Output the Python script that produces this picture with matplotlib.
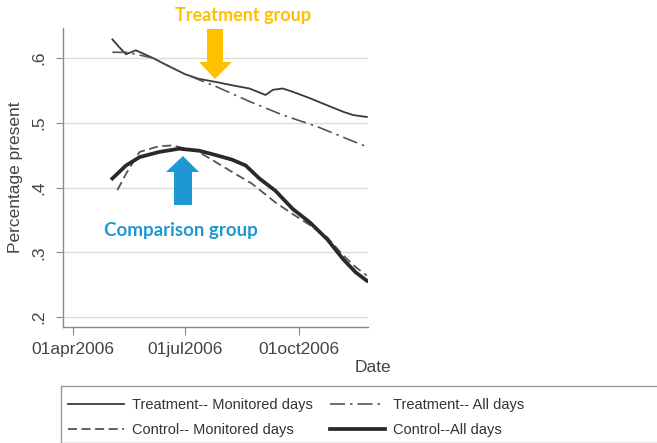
import numpy as np
import matplotlib
matplotlib.use('Agg')
import matplotlib.pyplot as plt
import matplotlib.dates as mdates
from matplotlib.patches import Polygon, Rectangle
from datetime import datetime

# treatment, monitored days
t_mon_dates = ['2006-05-03', '2006-05-08', '2006-05-14', '2006-05-22', '2006-06-05',
               '2006-06-16', '2006-07-01', '2006-07-12', '2006-07-26', '2006-08-08',
               '2006-08-22', '2006-09-04', '2006-09-10', '2006-09-18', '2006-09-26',
               '2006-10-10', '2006-10-24', '2006-11-06', '2006-11-14', '2006-11-25']
t_mon_vals = [0.629, 0.618, 0.606, 0.612, 0.600, 0.589, 0.575, 0.568, 0.563, 0.558,
              0.553, 0.543, 0.551, 0.553, 0.548, 0.538, 0.527, 0.517, 0.512, 0.509]

# treatment, all days
t_all_dates = ['2006-05-03', '2006-05-14', '2006-05-22', '2006-06-05', '2006-07-01',
               '2006-07-26', '2006-08-22', '2006-09-18', '2006-10-16', '2006-11-12',
               '2006-11-25']
t_all_vals = [0.609, 0.609, 0.606, 0.600, 0.575, 0.556, 0.533, 0.512, 0.494, 0.473, 0.463]

# control, monitored days
c_mon_dates = ['2006-05-07', '2006-05-14', '2006-05-25', '2006-06-10', '2006-06-21',
               '2006-07-12', '2006-07-26', '2006-08-08', '2006-08-24', '2006-09-12',
               '2006-09-26', '2006-10-10', '2006-10-24', '2006-11-06', '2006-11-16',
               '2006-11-25']
c_mon_vals = [0.396, 0.421, 0.455, 0.464, 0.465, 0.455, 0.439, 0.424, 0.406, 0.377,
              0.359, 0.342, 0.323, 0.295, 0.277, 0.264]

# control, all days
c_all_dates = ['2006-05-03', '2006-05-14', '2006-05-25', '2006-06-10', '2006-06-26',
               '2006-07-12', '2006-07-26', '2006-08-08', '2006-08-19', '2006-08-30',
               '2006-09-12', '2006-09-26', '2006-10-10', '2006-10-24', '2006-11-06',
               '2006-11-16', '2006-11-25']
c_all_vals = [0.414, 0.434, 0.447, 0.455, 0.460, 0.457, 0.450, 0.443, 0.434, 0.414,
              0.395, 0.367, 0.346, 0.320, 0.289, 0.269, 0.256]

x_ticks = ['2006-04-01', '2006-07-01', '2006-10-01']
x_tick_labels = ['01apr2006', '01jul2006', '01oct2006']
y_ticks = [0.2, 0.3, 0.4, 0.5, 0.6]
y_tick_labels = ['.2', '.3', '.4', '.5', '.6']


def to_dt(lst):
    return [datetime.strptime(s, '%Y-%m-%d') for s in lst]


plt.rcParams['font.family'] = ['Liberation Sans', 'DejaVu Sans']
W, H = 657, 443
fig = plt.figure(figsize=(W / 100, H / 100), dpi=100)
fig.patch.set_facecolor('white')
ax = fig.add_axes([63 / W, 1 - 327 / H, 305 / W, 299 / H])

lc = '#3a3a3a'
h1, = ax.plot(to_dt(t_mon_dates), t_mon_vals, color=lc, lw=1.3, label='Treatment-- Monitored days')
h3, = ax.plot(to_dt(t_all_dates), t_all_vals, color='#555555', lw=1.2,
              linestyle=(0, (9, 3, 1.5, 3)), label='Treatment-- All days')
h2, = ax.plot(to_dt(c_mon_dates), c_mon_vals, color='#555555', lw=1.3,
              linestyle=(0, (5, 2.5)), label='Control-- Monitored days')
h4, = ax.plot(to_dt(c_all_dates), c_all_vals, color='#2a2a2a', lw=2.7,
              label='Control--All days')

ax.set_xlim(datetime(2006, 3, 24), datetime(2006, 11, 26))
ax.set_ylim(0.1845, 0.6465)
ax.set_xticks(to_dt(x_ticks))
ax.set_xticklabels(x_tick_labels)
ax.set_yticks(y_ticks)
ax.set_yticklabels(y_tick_labels, rotation=90, va='center')
ax.yaxis.grid(True, color='#dcdcdc', lw=1.0)
ax.set_axisbelow(True)
for s in ['top', 'right']:
    ax.spines[s].set_visible(False)
for s in ['left', 'bottom']:
    ax.spines[s].set_color('#8a8a8a')
    ax.spines[s].set_linewidth(1.0)
ax.tick_params(axis='x', length=6, color='#8a8a8a', labelsize=12.5, labelcolor='#444444', pad=5)
ax.tick_params(axis='y', length=5, color='#8a8a8a', labelsize=12.5, labelcolor='#444444', pad=7)
ax.set_ylabel('Percentage present', fontsize=12.5, color='#444444', labelpad=6)

fig.text(373 / W, 1 - 367 / H, 'Date', fontsize=12.5, color='#444444', ha='center', va='center')

# legend box running off the right edge
fig.add_artist(Rectangle((61 / W, 0), 1, 1 - 386 / H, transform=fig.transFigure,
                         fill=False, edgecolor='#9a9a9a', lw=1.0, clip_on=False))
fig.legend(handles=[h1, h2, h3, h4], ncol=2, loc='upper left',
           bbox_to_anchor=(58 / W, 1 - 388 / H), frameon=False,
           prop={'size': 10.5},
           handlelength=3.8, handletextpad=0.55, columnspacing=1.2,
           labelspacing=0.75, borderpad=0.2, labelcolor='#333333')

# annotations
orange = '#FFC000'
blue = '#1E98D3'
fig.text(243 / W, 1 - 16 / H, 'Treatment group', color=orange, fontsize=13,
         fontweight='bold', family=['Lato', 'DejaVu Sans'], ha='center', va='center')
fig.text(181 / W, 1 - 230 / H, 'Comparison group', color=blue, fontsize=13.5,
         fontweight='bold', family=['Lato', 'DejaVu Sans'], ha='center', va='center')


def block_arrow(pts, color):
    pts = [(x / W, 1 - y / H) for x, y in pts]
    fig.add_artist(Polygon(pts, closed=True, transform=fig.transFigure,
                           facecolor=color, edgecolor='none'))


# down arrow (treatment)
block_arrow([(207, 29), (223, 29), (223, 62), (232, 62), (215, 79), (199, 62), (207, 62)], orange)
# up arrow (comparison)
block_arrow([(174, 205), (192, 205), (192, 172), (199, 172), (183, 156), (166, 172), (174, 172)], blue)

fig.savefig('out.png', dpi=100)
